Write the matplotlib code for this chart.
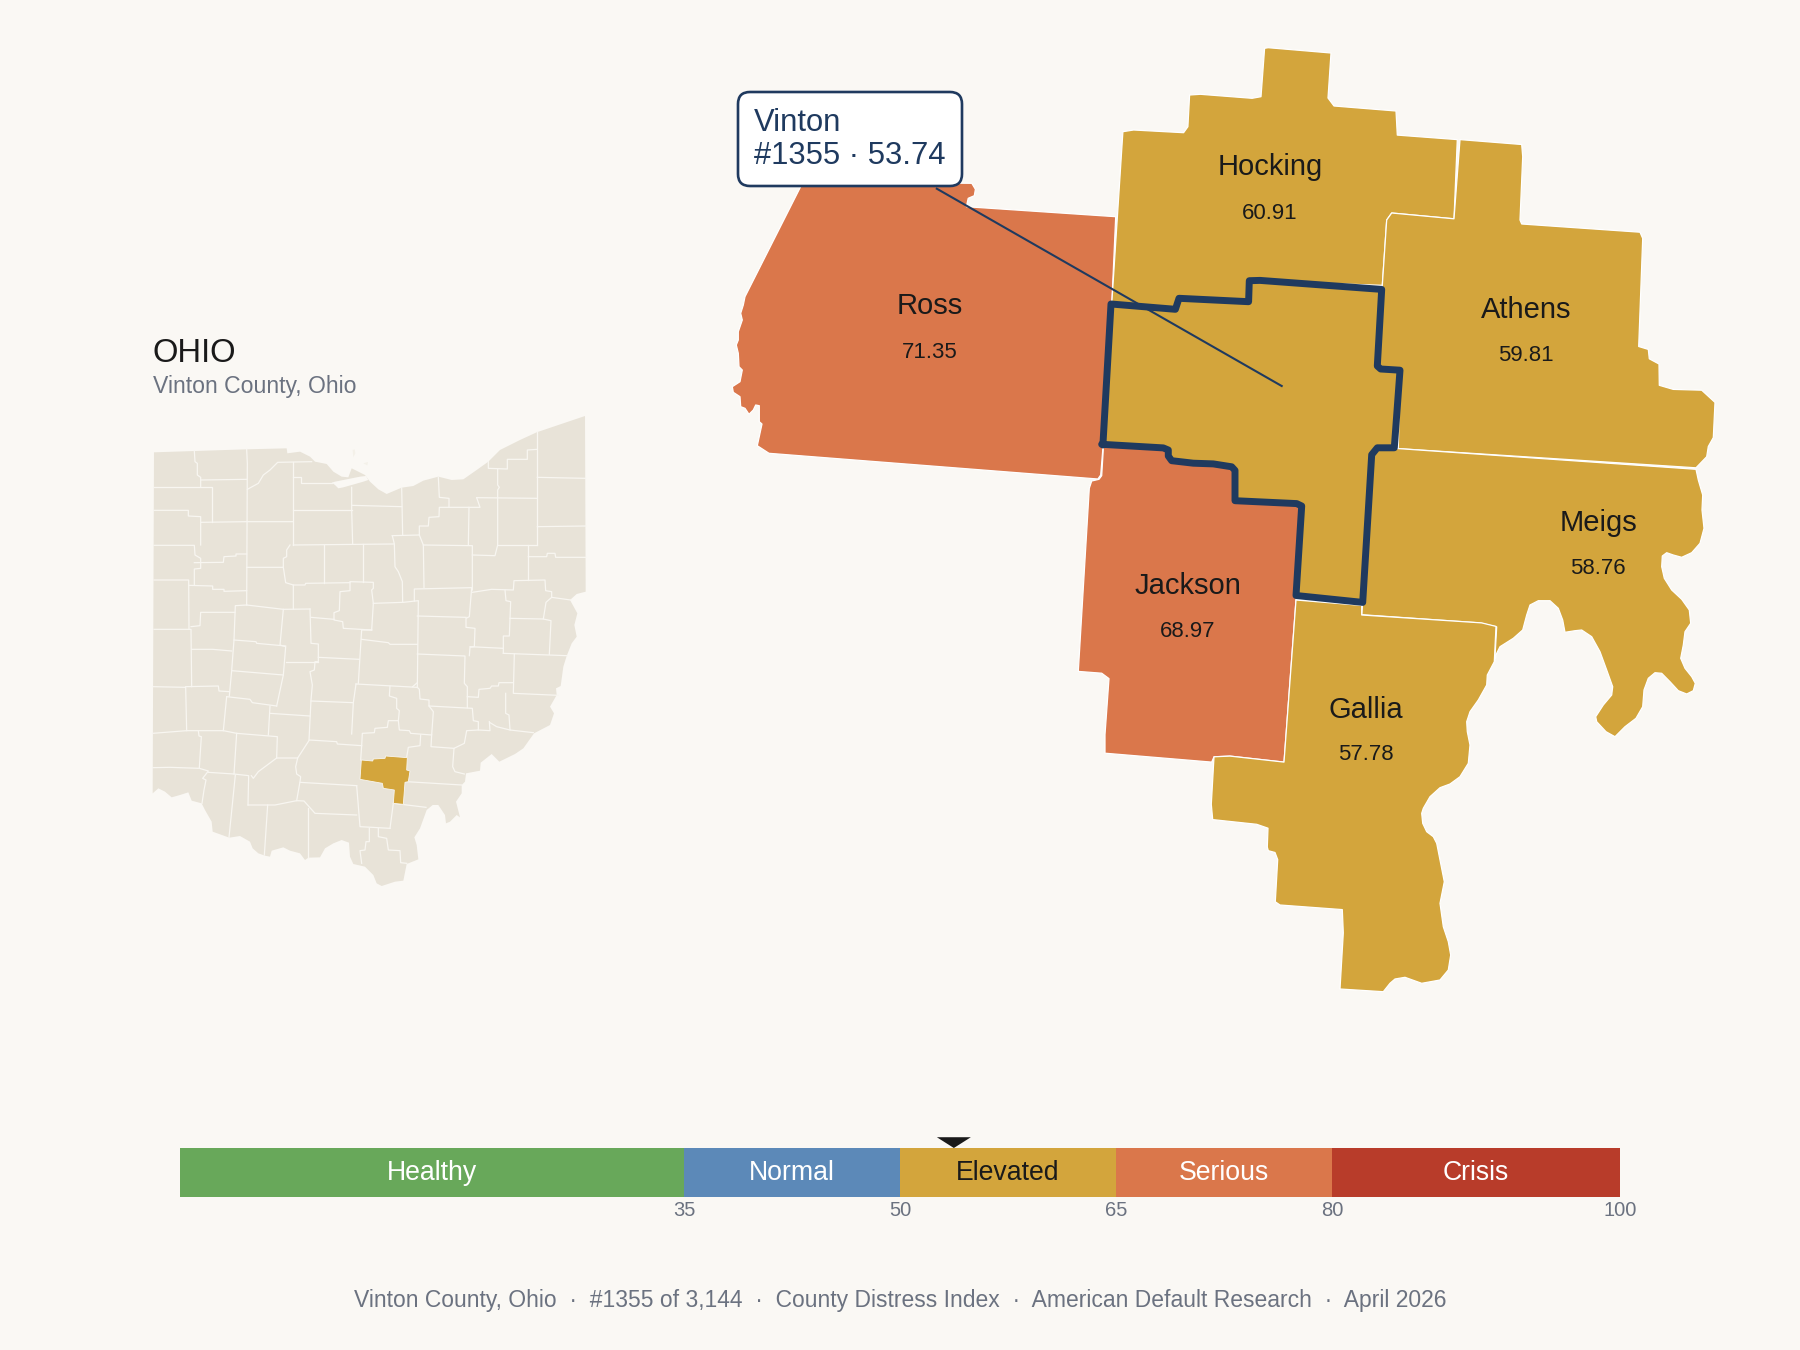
import matplotlib
matplotlib.use("Agg")
import matplotlib.pyplot as plt
from matplotlib.patches import Polygon, FancyBboxPatch

plt.rcParams['font.family'] = ['Liberation Sans', 'DejaVu Sans']

BG = '#FAF8F4'
LAND = '#E8E3D8'
GOLD = '#D3A53C'
ORANGE = '#DA774B'
NAVY = '#1F3A5F'
DARK = '#1A1A1A'
GRAY = '#6B7280'

# county distress scores
county_names = ['Ross', 'Hocking', 'Athens', 'Meigs', 'Jackson', 'Gallia']
county_scores = [71.35, 60.91, 59.81, 58.76, 68.97, 57.78]
county_colors = [ORANGE, GOLD, GOLD, GOLD, ORANGE, GOLD]
name_x = [929.6, 1270, 1525.7, 1598, 1187.7, 1366]
name_y = [314, 175, 318, 531, 594, 718]
score_y = [358, 219, 361, 574, 637, 760]

# scale bar
band_labels = ['Healthy', 'Normal', 'Elevated', 'Serious', 'Crisis']
band_edges = [0, 35, 50, 65, 80, 100]
band_colors = ['#68A85A', '#5C89B8', GOLD, ORANGE, '#B83C2A']
band_text = ['white', 'white', DARK, 'white', 'white']
scale_ticks = [35, 50, 65, 80, 100]
vinton_score = 53.74

# county outlines, figure pixels
ross = [(803, 182), (971.8, 183.3), (975.4, 189.3), (974.3, 195.7), (968.2, 198.3), (966.4, 206.7),
        (1115.7, 216.7), (1112, 300), (1104, 445), (1102.9, 448.3), (1100.7, 475), (1097.9, 479),
        (769, 453.3), (757.3, 445.7), (762, 424), (759.3, 421.7), (759.3, 405.7), (755.7, 405),
        (753.3, 410), (749, 414.3), (745, 408.3), (740.7, 406.7), (740, 396.7), (733.3, 392.3),
        (732.3, 386.7), (740, 381.7), (742.3, 370), (739, 366.7), (738.3, 353.3), (736.3, 345),
        (738.3, 340), (738.3, 331.7), (742.3, 320), (740.7, 313.3), (743.3, 305), (745, 296.7)]
hocking = [(1122.9, 131.7), (1133.6, 130), (1183.6, 132.7), (1187.9, 126.7), (1189.6, 95), (1200.4, 94.3),
           (1252.1, 98.3), (1261, 96.7), (1264.6, 48.3), (1268.2, 47.7), (1331, 53), (1328, 98),
           (1334, 106), (1396, 111), (1397.3, 135.1), (1457.3, 139.6), (1454, 218.8), (1391.7, 213),
           (1386.7, 220), (1382.3, 285.3), (1280, 282), (1249, 281), (1249, 302), (1179, 298),
           (1175, 309), (1111, 304), (1112, 300)]
athens = [(1460, 139.6), (1521.7, 144.5), (1522.7, 156.7), (1520, 220), (1521.7, 224), (1640, 232.2),
          (1642.7, 238.4), (1638.7, 346.5), (1648.3, 349.4), (1649.3, 358.8), (1659, 364), (1659.3, 385.3),
          (1673.3, 389.4), (1701.7, 390.2), (1715, 402.4), (1713.3, 437.6), (1708.3, 446.5), (1706.7, 456.7),
          (1696, 467.8), (1398.3, 448.6), (1400, 370), (1381, 369), (1377, 366), (1382.3, 285.3),
          (1386.7, 220), (1391.7, 213), (1454, 218.8)]
meigs = [(1398.3, 448.6), (1696, 469.3), (1698.3, 480), (1702.7, 495), (1702, 510), (1704, 528.3),
         (1700, 543.3), (1691.7, 552.7), (1681.7, 557.3), (1673.3, 555), (1666.7, 552.7), (1662.3, 556),
         (1661.7, 566.7), (1664.3, 578.3), (1671.7, 590), (1681.7, 599.3), (1689.3, 610), (1690.7, 623.3),
         (1685, 631.7), (1683.3, 645), (1680.7, 658.3), (1685, 668.3), (1691.7, 676.7), (1695.3, 683.3),
         (1693.3, 690.7), (1686.7, 694), (1678.3, 690.7), (1670, 681.7), (1661.7, 673.3), (1655, 672.7),
         (1648.3, 678.3), (1644, 690), (1642.7, 706.7), (1636, 718.3), (1625, 726.7), (1615, 736.7),
         (1606, 731.7), (1596.7, 721.7), (1595.7, 716.7), (1603.3, 705), (1611.7, 695), (1612.7, 686.7),
         (1606.7, 670), (1600, 651.7), (1591.7, 636.7), (1581.7, 630), (1575, 630.7), (1565, 632.3),
         (1562.7, 620), (1558.3, 608.3), (1550, 600.7), (1538.3, 600.7), (1530, 605), (1526.7, 615),
         (1522.7, 630), (1513.3, 638.3), (1500, 646.7), (1496.7, 653.3), (1494.7, 661.7), (1496.7, 626.9),
         (1480, 622.9), (1361.7, 614.7), (1362.7, 602.4), (1371.7, 454.7), (1377.3, 447.8)]
jackson = [(1103.3, 448.9), (1101.7, 475.7), (1099, 479.3), (1091.7, 481), (1089.3, 488.2), (1078.3, 671.4),
           (1101.7, 673.2), (1109, 678.6), (1105, 734.6), (1105, 753.2), (1211.7, 762.1), (1214, 756.8),
           (1230, 756.1), (1284, 762.1), (1296, 600), (1296, 595.5), (1301.7, 506), (1296.7, 503.6),
           (1235, 500.7), (1235, 470.4), (1231.7, 466.8), (1193, 463), (1171.7, 460.7), (1168, 456),
           (1168, 450), (1163, 448), (1101.7, 444.3)]
gallia = [(1296, 600), (1361.7, 605.4), (1361.7, 615), (1481.7, 622.9), (1496, 626.4), (1494.3, 661.7),
          (1487.3, 675), (1486.7, 685), (1478.3, 700), (1470, 711.7), (1466.7, 721.7), (1467.3, 731.7),
          (1470, 745), (1468.3, 763.3), (1460, 776.7), (1450, 784), (1440, 787.7), (1430, 796.7),
          (1423.3, 808.3), (1421.7, 813.3), (1422.7, 823.3), (1426.7, 831.7), (1433.3, 836.7), (1436.7, 843.3),
          (1444.3, 881.7), (1440, 903.3), (1443.3, 926.7), (1448.3, 941.7), (1450.7, 955), (1448.3, 970),
          (1440, 980), (1421.7, 983.3), (1405, 977.3), (1395, 979), (1390, 983.3), (1383.3, 991.7),
          (1340, 989), (1343.3, 932.9), (1342.3, 909.6), (1280, 905), (1275.3, 901.8), (1277.7, 859.6),
          (1275, 852.5), (1268.3, 850.7), (1267.3, 847.1), (1268, 828.2), (1256.7, 824.3), (1212.7, 819.6),
          (1211.3, 804.3), (1214, 756.8), (1230, 756.1), (1284, 762.1)]
vinton = [(1111, 304), (1175.4, 309.3), (1179, 298.3), (1248.6, 301.7), (1249.3, 280.7), (1260, 280.4),
          (1381.7, 289.4), (1377.3, 366), (1380.7, 369), (1400, 370.2), (1394.3, 447.8), (1377.3, 447.8),
          (1371.7, 454.7), (1362.7, 602.4), (1296, 595.5), (1301.7, 506), (1296.7, 503.6), (1235, 500.7),
          (1235, 470.4), (1231.7, 466.8), (1213.3, 463.9), (1193.3, 463.2), (1171.7, 460.7), (1168.3, 456),
          (1168.3, 450), (1163.3, 447.9), (1101.7, 444.3), (1102.9, 445)]
county_shapes = [ross, hocking, athens, meigs, jackson, gallia]

# inset state map, crop units (3 per pixel)
ohio_outline = [(72, 157), (350, 148), (470, 145), (472, 160), (510, 155), (540, 170), (555, 185), (590, 192),
                (610, 215), (635, 230), (655, 232), (665, 205), (685, 215), (705, 225), (720, 245), (745, 268),
                (770, 282), (815, 263), (850, 258), (880, 242), (925, 230), (965, 240), (1000, 238), (1040, 210),
                (1075, 185), (1110, 150), (1170, 120), (1220, 97), (1285, 75), (1365, 48), (1367, 575), (1340, 582),
                (1320, 600), (1342, 640), (1333, 675), (1340, 710), (1325, 730), (1310, 768), (1300, 800), (1292, 858),
                (1278, 865), (1280, 885), (1260, 920), (1272, 940), (1260, 975), (1212, 1000), (1180, 1045), (1155, 1062),
                (1108, 1085), (1085, 1062), (1052, 1088), (1050, 1112), (1008, 1120), (1005, 1145), (995, 1155),
                (995, 1180), (978, 1205), (990, 1252), (980, 1245), (960, 1265), (948, 1270), (945, 1245), (925, 1215),
                (908, 1215), (890, 1230), (870, 1285), (853, 1312), (860, 1335), (865, 1378), (830, 1392), (820, 1442),
                (795, 1445), (755, 1458), (740, 1450), (730, 1425), (705, 1400), (670, 1392), (660, 1370), (657, 1328),
                (635, 1320), (610, 1330), (585, 1345), (570, 1372), (535, 1373), (525, 1380), (510, 1360), (480, 1352),
                (460, 1342), (425, 1352), (420, 1370), (405, 1367), (385, 1360), (368, 1345), (360, 1325), (330, 1308),
                (298, 1313), (248, 1295), (245, 1265), (225, 1230), (215, 1210), (185, 1202), (175, 1177), (150, 1185),
                (125, 1192), (105, 1175), (85, 1165), (68, 1180)]
ohio_vinton = [(694, 1080), (728, 1083), (730, 1077), (765, 1075), (767, 1068), (832, 1073), (830, 1110), (840, 1113),
               (835, 1145), (825, 1147), (820, 1213), (790, 1210), (793, 1170), (760, 1165), (757, 1150), (690, 1138)]
ohio_bay = [(605, 248), (615, 245), (650, 238), (690, 230), (708, 228), (715, 240), (700, 245), (665, 255),
            (640, 262), (625, 265), (615, 255)]
ohio_islands = [[(668, 150), (674, 148), (676, 160), (670, 172)], [(700, 190), (714, 186), (712, 196)]]
ohio_lines = [
    [(193, 153), (195, 185), (202, 190), (202, 225), (212, 232), (212, 262)],
    [(72, 262), (245, 262), (245, 365)],
    [(212, 240), (350, 238)],
    [(350, 148), (352, 190), (350, 615)],
    [(72, 331), (175, 331), (175, 348), (212, 350), (212, 435)],
    [(72, 436), (193, 436), (195, 465), (212, 475), (212, 505), (193, 507), (193, 555)],
    [(212, 367), (350, 365), (490, 365)],
    [(72, 540), (176, 540), (177, 688)],
    [(193, 488), (280, 487), (282, 470), (318, 468), (318, 462), (350, 462)],
    [(176, 556), (248, 558), (248, 568), (282, 568), (282, 574), (350, 572)],
    [(72, 688), (183, 688), (185, 860)],
    [(183, 680), (210, 677), (212, 637), (315, 637)],
    [(350, 615), (316, 617), (312, 720), (305, 812), (298, 888)],
    [(350, 615), (460, 628), (540, 627)],
    [(460, 628), (450, 735), (467, 740), (460, 825), (440, 918)],
    [(312, 720), (378, 725), (380, 730), (467, 738)],
    [(185, 748), (248, 748), (305, 753)],
    [(305, 812), (460, 825)],
    [(70, 860), (167, 862), (170, 992)],
    [(167, 860), (265, 858), (267, 873), (298, 875)],
    [(290, 890), (360, 898), (367, 908), (440, 918)],
    [(290, 890), (280, 992)],
    [(420, 918), (415, 1005)],
    [(420, 940), (540, 948)],
    [(68, 1000), (170, 992), (280, 992), (320, 1000), (442, 1010), (440, 1072)],
    [(205, 992), (207, 1008), (214, 1010), (208, 1103)],
    [(320, 1000), (312, 1122)],
    [(68, 1103), (120, 1102), (208, 1105), (235, 1113), (218, 1135), (228, 1140), (222, 1170), (216, 1210)],
    [(235, 1117), (312, 1122), (356, 1127), (354, 1215)],
    [(316, 1125), (297, 1312)],
    [(354, 1215), (435, 1215), (500, 1202), (522, 1203), (555, 1240), (680, 1245)],
    [(413, 1215), (403, 1365)],
    [(440, 1074), (503, 1074), (538, 1020), (620, 1025), (622, 1032), (695, 1037)],
    [(503, 1074), (497, 1100), (500, 1122), (512, 1130), (510, 1145), (500, 1202)],
    [(440, 1074), (385, 1115), (370, 1135), (364, 1127)],
    [(510, 1147), (680, 1157)],
    [(535, 1225), (535, 1372)],
    [(490, 185), (490, 435)],
    [(352, 268), (385, 250), (400, 225), (420, 210), (443, 187), (545, 185)],
    [(490, 232), (513, 232), (513, 250), (605, 250)],
    [(665, 262), (665, 330), (668, 432)],
    [(490, 330), (665, 330)],
    [(665, 316), (815, 320)],
    [(815, 263), (818, 405)],
    [(490, 435), (790, 432)],
    [(480, 435), (470, 450), (470, 470), (460, 475), (460, 502), (350, 502)],
    [(460, 502), (467, 548), (490, 555), (490, 627)],
    [(490, 555), (525, 555), (527, 550), (660, 548)],
    [(583, 435), (583, 550)],
    [(700, 432), (700, 545)],
    [(660, 545), (730, 547), (730, 565), (725, 570), (730, 610), (725, 690)],
    [(660, 548), (660, 572), (630, 575), (628, 632), (612, 638), (612, 660), (638, 665), (640, 685), (725, 690)],
    [(730, 610), (820, 607), (865, 602), (862, 860)],
    [(787, 407), (868, 405), (868, 378), (895, 378), (897, 352), (927, 350), (928, 322), (957, 322), (957, 295),
     (928, 292), (925, 232)],
    [(787, 407), (793, 432), (795, 500), (805, 515), (817, 545), (818, 607)],
    [(868, 405), (880, 435), (882, 562)],
    [(880, 435), (1027, 437), (1027, 570)],
    [(853, 603), (853, 567), (1025, 563)],
    [(957, 322), (1017, 322), (1015, 435)],
    [(1040, 293), (1222, 295)],
    [(1040, 293), (1050, 322), (1017, 322)],
    [(1075, 185), (1075, 205), (1132, 207), (1132, 178), (1192, 178), (1192, 150), (1222, 148)],
    [(1222, 97), (1222, 435)],
    [(1103, 207), (1103, 255), (1108, 262), (1103, 270), (1103, 435), (1095, 467), (1027, 465)],
    [(1222, 232), (1367, 235)],
    [(1222, 380), (1367, 378)],
    [(1103, 435), (1222, 435)],
    [(1195, 435), (1195, 540)],
    [(1195, 470), (1250, 470), (1252, 460), (1275, 460), (1277, 472), (1367, 472)],
    [(1027, 577), (1085, 568), (1150, 570), (1152, 542), (1245, 540), (1247, 572), (1265, 575), (1265, 592), (1322, 600)],
    [(1125, 570), (1128, 602), (1142, 605), (1138, 708), (1120, 708), (1120, 760)],
    [(1265, 592), (1248, 607), (1240, 657), (1140, 655)],
    [(1240, 657), (1263, 662), (1258, 763)],
    [(1120, 760), (1310, 767)],
    [(1153, 762), (1150, 880), (1285, 886)],
    [(1025, 563), (1018, 650), (1008, 655), (1008, 682), (1035, 685), (1033, 740), (1020, 742), (1018, 767)],
    [(862, 648), (1008, 652)],
    [(695, 718), (775, 728), (780, 733), (862, 733)],
    [(725, 690), (695, 690), (693, 720), (685, 850)],
    [(862, 762), (1005, 768), (1003, 850), (1012, 860), (1012, 923)],
    [(1020, 740), (1120, 745)],
    [(1012, 890), (1045, 892), (1047, 868), (1080, 865), (1085, 858), (1105, 858), (1107, 848), (1150, 848)],
    [(1127, 880), (1127, 940), (1137, 945), (1140, 990), (1210, 998)],
    [(543, 652), (612, 658)],
    [(540, 627), (543, 730), (565, 732), (565, 785), (555, 785), (553, 810), (540, 815), (547, 855), (543, 900), (537, 1020)],
    [(467, 785), (565, 785)],
    [(565, 772), (688, 778)],
    [(543, 903), (670, 908)],
    [(678, 852), (862, 862)],
    [(678, 852), (670, 908), (665, 1002)],
    [(780, 858), (778, 888), (800, 895), (800, 925), (808, 932), (805, 962), (775, 962), (772, 982), (735, 985), (733, 998),
     (697, 1000), (695, 1037), (692, 1080)],
    [(848, 860), (862, 848)],
    [(862, 862), (868, 868), (870, 897), (897, 900), (897, 918), (1027, 925), (1030, 962), (1045, 965), (1045, 990),
     (1010, 992), (1003, 1030), (972, 1045), (968, 1100), (975, 1115), (1003, 1122)],
    [(805, 962), (808, 990), (838, 992), (842, 1000), (905, 1005), (910, 935), (897, 918)],
    [(872, 1005), (870, 1037), (835, 1042), (830, 1072)],
    [(905, 1005), (903, 1040), (972, 1045)],
    [(1078, 965), (1080, 992), (1045, 990)],
    [(1080, 968), (1100, 980), (1140, 990)],
    [(830, 1145), (995, 1155)],
    [(680, 1157), (690, 1280), (780, 1285)],
    [(790, 1210), (780, 1285)],
    [(790, 1210), (888, 1222)],
    [(718, 1285), (718, 1325), (708, 1325), (705, 1350), (690, 1352), (695, 1390)],
    [(745, 1285), (745, 1310), (770, 1315), (775, 1350), (810, 1352), (812, 1388), (830, 1390)],
]


def px(v, size):
    return v / size


fig = plt.figure(figsize=(18, 13.5), dpi=100, facecolor=BG)

# main map in figure pixels
ax = fig.add_axes([0, 0, 1, 1])
ax.set_xlim(0, 1800)
ax.set_ylim(1350, 0)
ax.axis('off')

for shape, color in zip(county_shapes, county_colors):
    ax.add_patch(Polygon(shape, closed=True, facecolor=color, edgecolor='white', linewidth=0.9, joinstyle='round'))
ax.add_patch(Polygon(vinton, closed=True, facecolor=GOLD, edgecolor='none'))
ax.plot([936.8, 1281.7], [188.7, 386], color=NAVY, linewidth=1.5)
ax.add_patch(Polygon(vinton, closed=True, facecolor='none', edgecolor=NAVY, linewidth=5, joinstyle='round'))

for name, score, x, y1, y2 in zip(county_names, county_scores, name_x, name_y, score_y):
    ax.text(x, y1, name, fontsize=21, color=DARK, ha='center', va='baseline')
    ax.text(x, y2, f'{score:.2f}', fontsize=16, color=DARK, ha='center', va='baseline')

# callout
ax.add_patch(FancyBboxPatch((738, 92), 224, 94, boxstyle='round,pad=0,rounding_size=12',
                            facecolor='white', edgecolor=NAVY, linewidth=1.9, zorder=5))
ax.text(754, 130.7, 'Vinton', fontsize=22.3, color=NAVY, ha='left', va='baseline', zorder=6)
ax.text(754, 164, f'#1355 · {vinton_score}', fontsize=22.3, color=NAVY, ha='left', va='baseline', zorder=6)

# inset heading
ax.text(153, 361.5, 'OHIO', fontsize=23.6, color=DARK, ha='left', va='baseline')
ax.text(153, 392.5, 'Vinton County, Ohio', fontsize=16.6, color=GRAY, ha='left', va='baseline')

# footer
ax.text(900, 1306.7, 'Vinton County, Ohio  ·  #1355 of 3,144  ·  County Distress Index  ·  American Default Research  ·  April 2026',
        fontsize=16.5, color=GRAY, ha='center', va='baseline')

# inset state map
inset = fig.add_axes([px(130, 1800), 1 - px(900, 1350), px(480, 1800), px(500, 1350)])
inset.set_xlim(0, 1440)
inset.set_ylim(1500, 0)
inset.axis('off')
inset.add_patch(Polygon(ohio_outline, closed=True, facecolor=LAND, edgecolor='none'))
inset.add_patch(Polygon(ohio_bay, closed=True, facecolor=BG, edgecolor='none'))
for island in ohio_islands:
    inset.add_patch(Polygon(island, closed=True, facecolor='#F4F1E9', edgecolor='none'))
for line in ohio_lines:
    inset.plot(*zip(*line), color='#F8F6F1', linewidth=0.9, solid_joinstyle='round')
inset.add_patch(Polygon(ohio_vinton, closed=True, facecolor=GOLD, edgecolor='#F8F6F1', linewidth=0.6, zorder=4))

# scale bar
bar = fig.add_axes([px(180, 1800), 1 - px(1197, 1350), px(1440, 1800), px(49, 1350)])
bar.set_xlim(0, 100)
bar.set_ylim(0, 1)
for i, label in enumerate(band_labels):
    left, right = band_edges[i], band_edges[i + 1]
    bar.barh(0.5, right - left, left=left, height=1, color=band_colors[i])
    bar.text((left + right) / 2, 0.357, label, fontsize=19.2, color=band_text[i], ha='center', va='baseline')
bar.fill([vinton_score - 1.18, vinton_score + 1.18, vinton_score], [1.22, 1.22, 1.0],
         color=DARK, linewidth=0, clip_on=False, zorder=5)
bar.set_xticks(scale_ticks)
bar.set_xticklabels([str(t) for t in scale_ticks], fontsize=14.5, color=GRAY)
bar.tick_params(axis='x', length=0, pad=3)
bar.set_yticks([])
for spine in bar.spines.values():
    spine.set_visible(False)

fig.savefig('out.png', dpi=100, facecolor=BG)
